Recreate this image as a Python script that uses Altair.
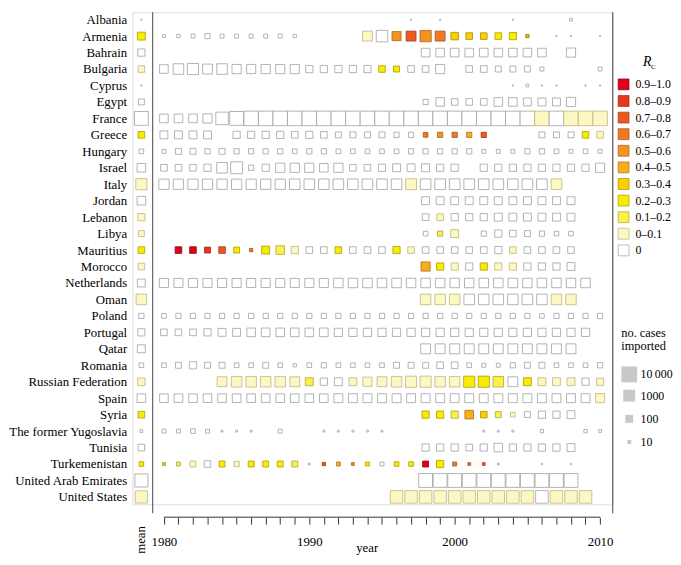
import altair as alt
import pandas as pd

FONT = "Liberation Serif"

COUNTRIES = ["Albania", "Armenia", "Bahrain", "Bulgaria", "Cyprus", "Egypt", "France", "Greece",
             "Hungary", "Israel", "Italy", "Jordan", "Lebanon", "Libya", "Mauritius", "Morocco",
             "Netherlands", "Oman", "Poland", "Portugal", "Qatar", "Romania", "Russian Federation",
             "Spain", "Syria", "The former Yugoslavia", "Tunisia", "Turkemenistan",
             "United Arab Emirates", "United States"]

RC_NAMES = ["0", "0–0.1", "0.1–0.2", "0.2–0.3", "0.3–0.4", "0.4–0.5", "0.5–0.6",
            "0.6–0.7", "0.7–0.8", "0.8–0.9", "0.9–1.0"]
RC_FILLS = ["#ffffff", "#fdf7c3", "#f9f04c", "#f9ec00", "#fbd000", "#f7ae19", "#f39322",
            "#ef7a23", "#ec5a20", "#e7371c", "#e2001a"]
RC_STROKES = ["#a0a0a0", "#bdb57e", "#aea53c", "#a89e00", "#a88a00", "#a6741a", "#a4641e",
              "#a0521e", "#9c3c1a", "#982616", "#900012"]

# mean column (cases, Rc class index into RC_NAMES), in COUNTRIES order
MEAN_CASES = [2, 100, 67, 47, 2, 32, 3160, 47, 15, 150, 670, 150, 67, 32, 47, 47, 100, 470, 21, 67,
              100, 15, 80, 150, 47, 5, 47, 15, 2000, 1200]
MEAN_RC = [0, 3, 0, 1, 0, 0, 0, 3, 0, 0, 1, 0, 1, 1, 3, 1, 0, 1, 0, 0, 0, 0, 1, 0, 3, 0, 0, 3, 0, 1]

# (year, cases imported, Rc class index)
ALBANIA = [(1997, 2, 0), (1999, 2, 0), (2004, 2, 0), (2008, 5, 0)]
ARMENIA = [(1980, 5, 0), (1981, 7, 0), (1982, 10, 0), (1983, 21, 0), (1984, 10, 0), (1985, 10, 0),
           (1986, 10, 0), (1987, 10, 0), (1988, 10, 0), (1989, 7, 0), (1994, 316, 1), (1995, 800, 0),
           (1996, 200, 6), (1997, 316, 8), (1998, 700, 6), (1999, 316, 7), (2000, 80, 4), (2001, 47, 4),
           (2002, 47, 4), (2003, 47, 3), (2004, 67, 3), (2005, 7, 5), (2007, 2, 0), (2008, 2, 0),
           (2010, 2, 0)]
BAHRAIN = [(1998, 150, 0), (1999, 150, 0), (2000, 150, 0), (2001, 150, 0), (2002, 150, 0),
           (2003, 150, 0), (2004, 150, 0), (2005, 150, 0), (2006, 150, 0), (2008, 210, 0)]
BULGARIA = [(1980, 150, 0), (1981, 470, 0), (1982, 670, 0), (1983, 316, 0), (1984, 470, 0),
            (1985, 210, 0), (1986, 210, 0), (1987, 210, 0), (1988, 210, 0), (1989, 210, 0),
            (1990, 67, 0), (1991, 67, 0), (1992, 67, 0), (1993, 67, 0), (1994, 67, 0), (1995, 47, 3),
            (1996, 32, 3), (1997, 47, 0), (1998, 47, 0), (1999, 210, 0), (2001, 47, 0), (2002, 47, 0),
            (2003, 32, 0), (2004, 32, 0), (2005, 32, 0), (2006, 10, 0), (2010, 10, 0)]
CYPRUS = [(2004, 2, 0), (2005, 5, 0), (2006, 2, 0), (2007, 2, 0), (2009, 2, 0), (2010, 2, 0)]
EGYPT = [(1998, 21, 0), (1999, 150, 0), (2000, 47, 0), (2001, 47, 0), (2002, 47, 0), (2003, 150, 0),
         (2004, 150, 0), (2005, 100, 0), (2006, 100, 0), (2007, 100, 0), (2008, 210, 0)]
FRANCE = [(1980, 150, 0), (1981, 150, 0), (1982, 150, 0), (1983, 210, 0), (1984, 1500, 0),
          (1985, 3160, 0), (1986, 4700, 0), (1987, 4700, 0), (1988, 4700, 0), (1989, 4700, 0),
          (1990, 4700, 0), (1991, 4700, 0), (1992, 4700, 0), (1993, 4700, 0), (1994, 4700, 0),
          (1995, 4700, 0), (1996, 4700, 0), (1997, 4700, 0), (1998, 4700, 0), (1999, 4700, 0),
          (2000, 4700, 0), (2001, 4700, 0), (2002, 4700, 0), (2003, 4700, 0), (2004, 4700, 0),
          (2005, 4700, 0), (2006, 4700, 1), (2007, 4700, 0), (2008, 4700, 1), (2009, 4700, 1),
          (2010, 4700, 1)]
GREECE = [(1980, 100, 0), (1981, 100, 0), (1982, 100, 0), (1983, 100, 0), (1985, 67, 0),
          (1986, 67, 0), (1987, 67, 0), (1988, 67, 0), (1989, 47, 0), (1990, 67, 0), (1991, 47, 0),
          (1992, 32, 0), (1993, 32, 0), (1994, 32, 0), (1995, 32, 0), (1996, 21, 0), (1997, 21, 0),
          (1998, 15, 7), (1999, 21, 6), (2000, 21, 7), (2001, 21, 5), (2002, 21, 8), (2006, 32, 0),
          (2007, 32, 0), (2008, 32, 0), (2009, 47, 3), (2010, 47, 1)]
HUNGARY = [(1980, 10, 0), (1981, 32, 0), (1982, 32, 0), (1983, 21, 0), (1984, 32, 0), (1985, 21, 0),
           (1986, 21, 0), (1987, 21, 0), (1988, 21, 0), (1989, 15, 0), (1990, 21, 0), (1991, 21, 0),
           (1992, 15, 0), (1993, 15, 0), (1994, 15, 0), (1995, 15, 0), (1996, 15, 0), (1997, 21, 0),
           (1998, 21, 0), (1999, 21, 0), (2000, 21, 0), (2001, 21, 0), (2002, 10, 0), (2003, 10, 0),
           (2004, 10, 0), (2005, 21, 0), (2006, 21, 0), (2007, 15, 0), (2008, 10, 0), (2009, 15, 0),
           (2010, 10, 0)]
ISRAEL = [(1980, 47, 0), (1981, 47, 0), (1982, 47, 0), (1983, 67, 0), (1984, 470, 0), (1985, 1000, 0),
          (1986, 21, 0), (1987, 67, 0), (1988, 210, 0), (1989, 210, 0), (1990, 210, 0), (1991, 150, 0),
          (1992, 210, 0), (1993, 47, 0), (1994, 47, 0), (1995, 67, 0), (1996, 100, 0), (1997, 100, 0),
          (1998, 100, 0), (1999, 67, 0), (2000, 67, 0), (2002, 67, 0), (2003, 67, 0), (2004, 67, 0),
          (2005, 67, 0), (2006, 67, 0), (2007, 67, 0), (2008, 67, 0), (2009, 67, 0), (2010, 210, 0)]
ITALY = [(1980, 400, 0), (1981, 400, 0), (1982, 400, 0), (1983, 400, 0), (1984, 400, 0),
         (1985, 400, 0), (1986, 400, 0), (1987, 400, 0), (1988, 400, 0), (1989, 470, 0),
         (1990, 470, 0), (1991, 470, 0), (1992, 470, 0), (1993, 470, 0), (1994, 470, 0),
         (1995, 470, 0), (1996, 470, 0), (1997, 600, 1), (1998, 500, 0), (1999, 500, 0),
         (2000, 500, 0), (2001, 500, 0), (2002, 500, 0), (2003, 500, 0), (2004, 500, 0),
         (2005, 500, 0), (2006, 500, 0), (2007, 500, 1)]
JORDAN = [(1998, 100, 0), (1999, 100, 0), (2000, 100, 0), (2001, 100, 0), (2002, 100, 0),
          (2003, 100, 0), (2004, 100, 0), (2005, 100, 0), (2006, 100, 0), (2007, 100, 0), (2008, 100, 0)]
LEBANON = [(1998, 47, 0), (1999, 47, 1), (2000, 67, 0), (2001, 67, 0), (2002, 67, 0), (2003, 100, 0),
           (2004, 100, 0), (2005, 100, 0), (2006, 100, 0), (2007, 100, 0), (2008, 100, 0)]
LIBYA = [(1998, 15, 0), (1999, 21, 2), (2000, 100, 1), (2002, 21, 0), (2003, 67, 0), (2004, 47, 0),
         (2005, 32, 0), (2006, 21, 0), (2007, 15, 0), (2008, 15, 0)]
MAURITIUS = [(1981, 47, 10), (1982, 47, 10), (1983, 32, 9), (1984, 47, 8), (1985, 32, 3), (1986, 7, 7),
             (1987, 100, 3), (1988, 150, 2), (1989, 67, 1), (1990, 47, 0), (1991, 47, 0), (1992, 47, 3),
             (1993, 47, 0), (1994, 47, 0), (1995, 47, 0), (1996, 67, 3), (1997, 47, 1), (1998, 47, 0),
             (1999, 47, 0), (2000, 47, 0), (2001, 47, 0), (2002, 47, 0), (2003, 67, 0), (2004, 47, 1),
             (2005, 47, 0), (2006, 47, 0), (2007, 47, 0), (2008, 47, 0)]
MOROCCO = [(1998, 210, 5), (1999, 67, 3), (2000, 67, 1), (2001, 67, 0), (2002, 67, 3), (2003, 67, 1),
           (2004, 67, 1), (2005, 67, 0), (2006, 67, 0), (2007, 67, 0), (2008, 100, 0)]
NETHERLANDS = [(1980, 200, 0), (1981, 200, 0), (1982, 200, 0), (1983, 200, 0), (1984, 200, 0),
               (1985, 200, 0), (1986, 200, 0), (1987, 200, 0), (1988, 200, 0), (1989, 200, 0),
               (1990, 200, 0), (1991, 200, 0), (1992, 250, 0), (1993, 250, 0), (1994, 250, 0),
               (1995, 250, 0), (1996, 250, 0), (1997, 250, 0), (1998, 250, 0), (1999, 250, 0),
               (2000, 250, 0), (2001, 250, 0), (2002, 250, 0), (2003, 250, 0), (2004, 250, 0),
               (2005, 250, 0), (2006, 250, 0), (2007, 250, 0), (2008, 250, 0), (2009, 250, 0)]
OMAN = [(1998, 470, 1), (1999, 470, 1), (2000, 470, 1), (2001, 470, 0), (2002, 470, 0), (2003, 470, 0),
        (2004, 470, 0), (2005, 470, 0), (2006, 470, 0), (2007, 470, 1), (2008, 470, 1)]
POLAND = [(1980, 15, 0), (1981, 21, 0), (1982, 21, 0), (1983, 21, 0), (1984, 21, 0), (1985, 21, 0),
          (1986, 21, 0), (1987, 21, 0), (1988, 21, 0), (1989, 21, 0), (1990, 21, 0), (1991, 21, 0),
          (1992, 21, 0), (1993, 21, 0), (1994, 21, 0), (1995, 21, 0), (1996, 21, 0), (1997, 21, 0),
          (1998, 21, 0), (1999, 21, 0), (2000, 21, 0), (2001, 21, 0), (2002, 21, 0), (2003, 21, 0),
          (2004, 21, 0), (2005, 21, 0), (2006, 15, 0), (2007, 21, 0), (2008, 21, 0), (2009, 21, 0),
          (2010, 21, 0)]
PORTUGAL = [(1980, 47, 0), (1981, 47, 0), (1982, 47, 0), (1983, 67, 0), (1984, 100, 0), (1985, 100, 0),
            (1986, 150, 0), (1987, 150, 0), (1988, 150, 0), (1989, 150, 0), (1990, 150, 0),
            (1991, 150, 0), (1992, 120, 0), (1993, 120, 0), (1994, 120, 0), (1995, 120, 0),
            (1996, 120, 0), (1997, 120, 0), (1998, 120, 0), (1999, 120, 0), (2000, 120, 0),
            (2001, 120, 0), (2002, 120, 0), (2003, 120, 0), (2004, 120, 0), (2005, 120, 0),
            (2006, 120, 0), (2007, 120, 0), (2008, 120, 0), (2009, 120, 0)]
QATAR = [(1998, 316, 0), (1999, 316, 0), (2000, 316, 0), (2001, 316, 0), (2002, 316, 0), (2003, 316, 0),
         (2004, 316, 0), (2005, 316, 0), (2006, 316, 0), (2007, 316, 0), (2008, 316, 0)]
ROMANIA = [(1980, 15, 0), (1981, 32, 0), (1982, 67, 0), (1983, 32, 0), (1984, 32, 0), (1985, 15, 0),
           (1986, 15, 0), (1987, 32, 0), (1988, 15, 0), (1989, 7, 0), (1990, 15, 0), (1991, 21, 0),
           (1992, 15, 0), (1993, 15, 0), (1994, 15, 0), (1995, 15, 0), (1996, 32, 0), (1997, 32, 0),
           (1998, 32, 0), (1999, 47, 0), (2000, 47, 0), (2001, 15, 0), (2002, 10, 0), (2003, 10, 0),
           (2004, 21, 0), (2005, 32, 0), (2006, 32, 0), (2007, 15, 0), (2008, 15, 0), (2009, 15, 0),
           (2010, 21, 0)]
RUSSIA = [(1984, 316, 1), (1985, 470, 1), (1986, 470, 1), (1987, 470, 1), (1988, 470, 1), (1989, 316, 1),
          (1990, 100, 2), (1991, 67, 0), (1992, 100, 0), (1993, 100, 1), (1994, 210, 1), (1995, 316, 1),
          (1996, 470, 1), (1997, 670, 1), (1998, 670, 1), (1999, 470, 1), (2000, 470, 1), (2001, 670, 3),
          (2002, 670, 3), (2003, 470, 2), (2004, 316, 0), (2005, 100, 3), (2006, 100, 1), (2007, 100, 1),
          (2008, 100, 1), (2009, 67, 0), (2010, 67, 1)]
SPAIN = [(1980, 150, 0), (1981, 150, 0), (1982, 150, 0), (1983, 150, 0), (1984, 150, 0), (1985, 150, 0),
         (1986, 150, 0), (1987, 150, 0), (1988, 150, 0), (1989, 150, 0), (1990, 150, 0), (1991, 150, 0),
         (1992, 180, 0), (1993, 180, 0), (1994, 180, 0), (1995, 180, 0), (1996, 180, 0), (1997, 180, 0),
         (1998, 180, 0), (1999, 180, 0), (2000, 180, 0), (2001, 180, 0), (2002, 180, 0), (2003, 180, 0),
         (2004, 180, 0), (2005, 180, 0), (2006, 180, 0), (2007, 180, 0), (2008, 180, 0), (2009, 180, 0),
         (2010, 210, 1)]
SYRIA = [(1998, 67, 3), (1999, 67, 3), (2000, 67, 2), (2001, 150, 5), (2002, 47, 4), (2003, 32, 2),
         (2004, 15, 1), (2005, 32, 0), (2006, 67, 0), (2007, 67, 0), (2008, 100, 0)]
YUGOSLAVIA = [(1980, 10, 0), (1981, 10, 0), (1982, 15, 0), (1983, 10, 0), (1984, 3, 0), (1985, 3, 0),
              (1986, 3, 0), (1988, 10, 0), (1991, 3, 0), (1992, 3, 0), (1993, 3, 0), (1994, 3, 0),
              (1995, 3, 0), (2002, 3, 0), (2003, 3, 0), (2004, 3, 0), (2006, 7, 0), (2009, 7, 0),
              (2010, 5, 0)]
TUNISIA = [(1998, 67, 0), (1999, 67, 0), (2000, 67, 0), (2001, 47, 0), (2002, 67, 0), (2003, 150, 0),
           (2004, 67, 0), (2005, 67, 0), (2006, 67, 0), (2007, 67, 0), (2008, 100, 0)]
TURKMENISTAN = [(1980, 5, 4), (1981, 10, 2), (1982, 32, 1), (1983, 47, 0), (1984, 32, 3), (1985, 21, 1),
                (1986, 32, 3), (1987, 32, 3), (1988, 32, 3), (1989, 32, 2), (1990, 3, 0), (1991, 7, 8),
                (1992, 10, 5), (1993, 5, 6), (1994, 10, 3), (1995, 10, 0), (1996, 15, 3), (1997, 15, 3),
                (1998, 32, 10), (1999, 67, 3), (2000, 10, 7), (2001, 5, 7), (2002, 5, 8), (2003, 3, 0),
                (2006, 2, 0), (2008, 2, 0)]
UAE = [(1998, 3160, 0), (1999, 3160, 0), (2000, 3160, 0), (2001, 3160, 0), (2002, 3160, 0),
       (2003, 3160, 0), (2004, 3160, 0), (2005, 3160, 0), (2006, 3160, 0), (2007, 3160, 0),
       (2008, 3160, 0)]
USA = [(1996, 1500, 1), (1997, 1500, 1), (1998, 1500, 1), (1999, 1500, 1), (2000, 1500, 1),
       (2001, 1500, 1), (2002, 1500, 1), (2003, 1500, 1), (2004, 1500, 1), (2005, 1500, 1),
       (2006, 1500, 0), (2007, 1500, 1), (2008, 1500, 1), (2009, 1500, 1)]

SERIES = [ALBANIA, ARMENIA, BAHRAIN, BULGARIA, CYPRUS, EGYPT, FRANCE, GREECE, HUNGARY, ISRAEL, ITALY,
          JORDAN, LEBANON, LIBYA, MAURITIUS, MOROCCO, NETHERLANDS, OMAN, POLAND, PORTUGAL, QATAR,
          ROMANIA, RUSSIA, SPAIN, SYRIA, YUGOSLAVIA, TUNISIA, TURKMENISTAN, UAE, USA]

TICK_YEARS = list(range(1980, 2011))
SIZE_LEGEND_LOG = [4, 3, 2, 1]   # 10 000, 1000, 100, 10 cases

# layout constants (scale positions, not data)
X0, X1 = 1977.84, 2010.87
MEAN_X = 1978.45
LEFT_LINE_X = 1979.23
W, H = 486, 498

rows = []
for name, mc, mr, series in zip(COUNTRIES, MEAN_CASES, MEAN_RC, SERIES):
    rows.append({"country": name, "x": MEAN_X, "cases": mc, "rc": RC_NAMES[mr]})
    for year, cases, rc in series:
        rows.append({"country": name, "x": year, "cases": cases, "rc": RC_NAMES[rc]})
df = pd.DataFrame(rows)

xscale = alt.Scale(domain=[X0, X1], nice=False, zero=False)
X_AXIS = alt.Axis(values=TICK_YEARS, format="d",
                  labelExpr="datum.value % 10 == 0 ? datum.label : ''",
                  domain=False, grid=False, tickSize=7, tickColor="#333", tickWidth=1,
                  offset=13, labelFont=FONT, labelFontSize=13, labelColor="black",
                  labelPadding=12, labelOverlap=False, labelFlush=False,
                  title="year", titleFont=FONT, titleFontSize=13, titleFontWeight="normal",
                  titleColor="black", titleX=237, titleY=35, titleBaseline="alphabetic",
                  titleAlign="center")

legend_order = RC_NAMES[::-1]
fill_order = RC_FILLS[::-1]
stroke_order = RC_STROKES[::-1]

squares = alt.Chart(df).transform_calculate(
    lc="log(datum.cases)/LN10"
).mark_square(filled=True, opacity=1, strokeWidth=0.8).encode(
    x=alt.X("x:Q", scale=xscale, axis=X_AXIS),
    y=alt.Y("country:N", sort=COUNTRIES, scale=alt.Scale(type="point", padding=0.45),
            axis=alt.Axis(title=None, domain=False, ticks=False, labelFont=FONT, labelFontSize=13,
                          labelColor="black", labelPadding=5.9, labelLimit=300)),
    color=alt.Color("rc:N", scale=alt.Scale(domain=legend_order, range=fill_order),
                    legend=alt.Legend(title=None, orient="none", legendX=491, legendY=67,
                                      direction="vertical", symbolType="square", symbolSize=121,
                                      symbolStrokeColor="#999", symbolStrokeWidth=0.7,
                                      labelFont=FONT, labelFontSize=12, labelColor="black",
                                      labelOffset=6, rowPadding=2.8)),
    stroke=alt.Stroke("rc:N", scale=alt.Scale(domain=legend_order, range=stroke_order), legend=None),
    size=alt.Size("lc:Q", scale=alt.Scale(type="pow", exponent=2, domain=[0, 4], range=[0, 256]),
                  legend=alt.Legend(title=["no. cases", "imported"], orient="none", legendX=494.7,
                                    legendY=319, direction="vertical", values=SIZE_LEGEND_LOG,
                                    symbolType="square", symbolFillColor="#c8c8c8",
                                    symbolStrokeWidth=0, symbolOpacity=1, gridAlign="all",
                                    labelExpr="datum.value == 4 ? '10\u2009000' : format(pow(10, datum.value), 'd')",
                                    labelFont=FONT, labelFontSize=12, labelColor="black",
                                    labelOffset=3.5, rowPadding=7.5, titleFont=FONT, titleFontSize=12.5,
                                    titleFontWeight="normal", titleColor="black", titleLineHeight=13,
                                    titlePadding=14)),
)

vlines = alt.Chart(pd.DataFrame({"x": [LEFT_LINE_X, X1]})).mark_rule(color="#444", strokeWidth=1).encode(
    x=alt.X("x:Q", scale=xscale, axis=X_AXIS), y=alt.value(0), y2=alt.value(507))

hline = alt.Chart(pd.DataFrame({"x": [1980], "x2": [2010]})).mark_rule(color="#333", strokeWidth=1).encode(
    x=alt.X("x:Q", scale=xscale, axis=X_AXIS), x2="x2:Q", y=alt.value(511))

mean_lbl = alt.Chart(pd.DataFrame({"x": [MEAN_X], "t": ["mean"]})).mark_text(
    angle=270, font=FONT, fontSize=13, align="center", baseline="middle", color="black").encode(
    x=alt.X("x:Q", scale=xscale, axis=X_AXIS), y=alt.value(534), text="t:N")

rc_r = alt.Chart(pd.DataFrame({"t": ["R"]})).mark_text(
    font=FONT, fontSize=14, fontStyle="italic", align="center", baseline="middle", color="black").encode(
    x=alt.value(521), y=alt.value(50.5), text="t:N")
rc_c = alt.Chart(pd.DataFrame({"t": ["C"]})).mark_text(
    font=FONT, fontSize=7, align="center", baseline="middle", color="black").encode(
    x=alt.value(527), y=alt.value(55), text="t:N")

chart = alt.layer(squares, vlines, hline, mean_lbl, rc_r, rc_c).properties(
    width=W, height=H, padding=0
).configure_view(stroke=None).configure(background="white")

chart.save("out.html", embed_options={"renderer": "svg", "actions": False})
